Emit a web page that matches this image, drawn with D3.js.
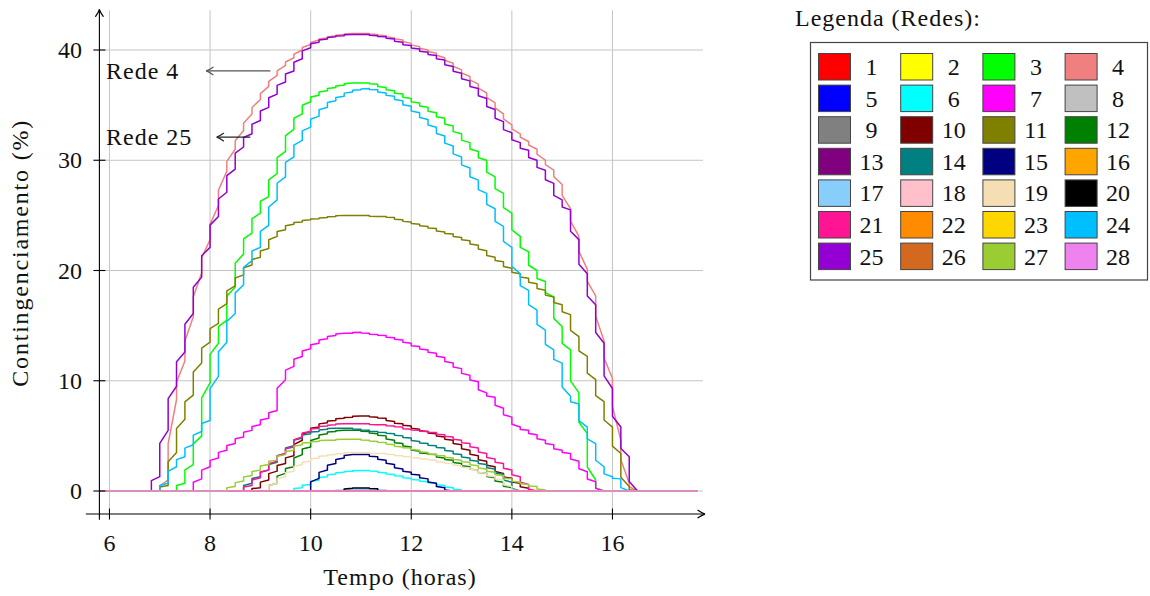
<!DOCTYPE html>
<html>
<head>
<meta charset="utf-8">
<script src="https://cdn.jsdelivr.net/npm/d3@7"></script>
<style>
  body { margin: 0; background: #fff; }
  svg { display: block; }
  text { font-family: "Liberation Serif", "Times New Roman", serif; fill: #111; }
</style>
</head>
<body>
<svg id="grafico" width="1150" height="596"></svg>
<script>
// Horários das amostras (intervalos de 10 min)
const horarios = [
  "06:40","06:50","07:00","07:10","07:20","07:30","07:40","07:50",
  "08:00","08:10","08:20","08:30","08:40","08:50",
  "09:00","09:10","09:20","09:30","09:40","09:50",
  "10:00","10:10","10:20","10:30","10:40","10:50",
  "11:00","11:10","11:20","11:30","11:40","11:50",
  "12:00","12:10","12:20","12:30","12:40","12:50",
  "13:00","13:10","13:20","13:30","13:40","13:50",
  "14:00","14:10","14:20","14:30","14:40","14:50",
  "15:00","15:10","15:20","15:30","15:40","15:50",
  "16:00","16:10","16:20","16:30","16:40"
];
// Fora da janela listada o contingenciamento é nulo
const inicioDados = "05:40";
const fimDados = "17:50";

// Contingenciamento (%) por rede; valores ausentes no fim = 0
const rede1 = [];
const rede2 = [];
const rede3 = [0,0,0,0,0,0.7,2.4,5.0,9.8,13.4,15.5,18.5,21.5,23.4,25.2,26.7,28.8,30.8,32.8,34.2,
  35.3,35.9,36.3,36.6,36.8,37.0,37.0,37.0,36.9,36.6,36.3,36.0,35.6,35.2,34.8,34.3,33.8,33.1,
  32.4,31.6,30.8,30.0,28.5,27.0,25.2,23.1,21.7,20.0,19.0,17.6,14.9,12.8,8.9,5.2,1.0,0];
const rede4 = [0,0,0,1.0,8.3,11.8,15.8,19.8,22.8,25.9,29.0,31.0,32.7,34.2,35.5,36.7,37.7,38.6,39.3,40.0,
  40.5,40.9,41.1,41.3,41.4,41.5,41.5,41.5,41.4,41.3,41.1,40.9,40.6,40.3,40.0,39.7,39.3,38.8,
  38.2,37.6,36.9,36.1,35.2,34.2,33.2,32.4,31.7,31.0,30.0,29.1,27.8,25.6,23.1,20.1,17.7,13.6,
  10.2,4.6,0.7,0,0];
const rede5 = [];
const rede6 = [0,0,0,0,0,0,0,0,0,0,0,0,0,0,0,0,0,0,0,0.3,0.6,1.0,1.3,1.55,1.7,1.8,1.85,1.85,1.8,
  1.65,1.5,1.35,1.15,1.0,0.85,0.7,0.5,0.3,0.1,0];
const rede7 = [0,0,0,0,0,0,0,1.1,2.2,3.0,3.7,4.3,4.9,5.5,6.0,6.6,7.3,10.1,11.3,12.2,
  12.9,13.4,13.8,14.1,14.3,14.3,14.4,14.3,14.2,14.1,13.9,13.7,13.4,13.1,12.8,12.5,12.1,11.6,
  11.1,10.5,9.9,8.9,8.5,7.5,6.7,5.8,5.5,5.1,4.6,4.2,3.7,3.4,2.7,1.75,0.84,0];
const rede8 = [];
const rede9 = [];
const rede10 = [0,0,0,0,0,0,0,0,0,0,0,0,0,0,0.3,1.0,1.8,2.5,3.2,4.6,5.4,5.8,6.2,6.4,6.6,6.7,
  6.8,6.8,6.7,6.6,6.3,6.1,5.9,5.6,5.4,5.2,4.9,4.6,4.2,3.7,3.2,2.7,2.2,1.6,1.15,0.7,0.25,0];
const rede11 = [0,0,0,0.5,3.5,6.5,8.7,11.6,13.5,15.2,17.0,18.6,19.6,20.5,21.2,22.0,23.1,23.7,24.2,24.4,
  24.6,24.7,24.8,24.9,25.0,25.0,25.0,25.0,24.9,24.9,24.8,24.6,24.4,24.2,24.0,23.8,23.5,23.3,
  23.0,22.7,22.3,21.8,21.2,20.8,20.2,19.7,19.3,18.8,18.2,17.6,16.9,16.0,14.0,12.2,10.1,8.1,
  5.8,3.4,0.4,0,0];
const rede12 = [0,0,0,0,0,0,0,0,0,0,0,0,0,0,0,0,0.7,1.6,2.2,3.3,4.0,4.8,5.2,5.4,5.5,5.5,5.5,5.4,
  5.2,5.0,4.6,4.3,4.0,3.6,3.4,3.3,3.0,2.8,2.5,2.2,1.9,1.6,1.2,0.8,0.3,0];
const rede13 = [];
const rede14 = [0,0,0,0,0,0,0,0,0,0,0,0,0,0.7,1.3,1.9,2.6,3.4,4.1,4.8,5.2,5.4,5.6,5.7,5.7,5.7,
  5.6,5.5,5.4,5.3,5.2,5.0,4.8,4.5,4.3,4.1,3.9,3.6,3.3,3.0,2.7,2.4,2.0,1.5,0.8,0];
const rede15 = [0,0,0,0,0,0,0,0,0,0,0,0,0,0,0,0,0,0,0,0,0,1.15,1.9,2.5,3.0,3.3,3.3,3.3,3.1,
  2.8,2.4,2.0,1.7,1.45,1.1,0.7,0.3,0];
const rede16 = [];
const rede17 = [0,0,0,0,0,0,0,0,0,0,0,0,0,0,0,0,0,0,0,0,0,0,0,0,0.1,0.15,0.15,0.15,0.15,0.1,0];
const rede18 = [];
const rede19 = [0,0,0,0,0,0,0,0,0,0,0,0,0,0,0,0,0.7,1.3,1.8,2.4,2.7,3.0,3.2,3.3,3.4,3.5,3.5,3.5,
  3.4,3.4,3.3,3.2,3.1,3.0,2.9,2.8,2.6,2.5,2.3,2.1,1.9,1.6,1.3,1.0,0.4,0];
const rede20 = [0,0,0,0,0,0,0,0,0,0,0,0,0,0,0,0,0,0,0,0,0,0,0,0,0,0.25,0.28,0.28,0.2,0];
const rede21 = [0,0,0,0,0,0,0,0,0,0,0,0,0,0.5,1.2,1.9,2.7,3.4,4.0,4.9,5.4,5.7,5.9,6.0,6.1,6.1,
  6.1,6.1,6.0,6.0,5.9,5.8,5.6,5.5,5.4,5.3,5.1,4.9,4.6,4.3,3.9,3.4,2.9,2.5,1.9,1.3,0.6,0];
const rede22 = [];
const rede23 = [];
const rede24 = [0,0,0,0.7,2.2,3.1,4.2,5.4,6.4,10.4,13.5,16.1,18.7,20.9,22.1,24.1,26.4,28.5,30.3,31.8,
  33.0,34.0,34.8,35.4,35.8,36.2,36.4,36.5,36.4,36.1,35.8,35.4,34.9,34.3,33.7,33.0,32.2,31.3,
  30.3,29.3,28.2,27.0,25.6,24.0,22.1,19.7,18.2,16.4,14.6,12.8,11.6,8.6,7.9,5.8,4.3,2.2,
  1.3,1.1,0];
const rede25 = [0,0,1.3,5.5,9.5,12.6,16.1,19.4,22.1,24.9,27.1,29.2,31.2,32.4,33.6,34.8,36.0,37.1,38.1,39.2,
  40.2,40.7,41.0,41.2,41.3,41.4,41.4,41.4,41.3,41.2,41.0,40.7,40.4,40.1,39.8,39.5,39.1,38.5,
  37.9,37.2,36.5,35.6,34.6,33.5,32.5,31.6,30.9,30.0,29.1,27.9,26.4,25.5,22.8,19.7,16.9,13.4,
  9.3,5.8,3.1,0,0];
const rede26 = [];
const rede27 = [0,0,0,0,0,0,0,0,0,0,0,0.4,0.9,1.4,1.9,2.4,2.8,3.3,3.7,4.2,4.4,4.5,4.6,4.6,4.7,4.7,
  4.7,4.6,4.5,4.4,4.2,4.0,3.9,3.7,3.5,3.3,3.2,3.0,2.8,2.6,2.3,2.0,1.7,1.4,1.1,0.8,0.6,0.4,0.1,0];
const rede28 = [];

const redes = ["1","2","3","4","5","6","7","8","9","10","11","12","13","14",
               "15","16","17","18","19","20","21","22","23","24","25","26","27","28"];
const series = [rede1,rede2,rede3,rede4,rede5,rede6,rede7,rede8,rede9,rede10,rede11,rede12,rede13,rede14,
                rede15,rede16,rede17,rede18,rede19,rede20,rede21,rede22,rede23,rede24,rede25,rede26,rede27,rede28];
const cores = ["#ff0000","#ffff00","#00ff00","#f08080","#0000ff","#00ffff","#ff00ff","#c0c0c0",
               "#808080","#800000","#808000","#008000","#800080","#008080","#000080","#ffa500",
               "#87cefa","#ffc0cb","#f5deb3","#000000","#ff1493","#ff8c00","#ffd700","#00bfff",
               "#9400d3","#d2691e","#9acd32","#ee82ee"];

const ticksX = [6, 8, 10, 12, 14, 16];
const ticksY = [0, 10, 20, 30, 40];
const anotacoes = [
  { texto: "Rede 4",  nivel: 38.1, deX: 9.2,  ateX: 7.92 },
  { texto: "Rede 25", nivel: 32.1, deX: 8.8,  ateX: 8.13 }
];

// ---------------------------------------------------------------
const svg = d3.select("#grafico");
const x = d3.scaleLinear().domain([5.8, 17.8]).range([99.4, 703]);
const y = d3.scaleLinear().domain([0, 40]).range([491, 50]);
const eixoY0 = -2.09;          // altura do eixo horizontal
const xMinEixo = 5.53, yMaxEixo = 43.6, yMinEixo = -2.6;
const xMaxDados = 17.7;

const hora = s => { const [h, m] = s.split(":").map(Number); return h + m / 60; };

// grade
const grade = svg.append("g").attr("stroke", "#c4c4c4").attr("stroke-width", 1);
ticksX.forEach(t => grade.append("line")
  .attr("x1", x(t)).attr("x2", x(t)).attr("y1", y(eixoY0)).attr("y2", y(yMaxEixo)));
ticksY.forEach(t => grade.append("line")
  .attr("x1", x(5.8)).attr("x2", x(17.8)).attr("y1", y(t)).attr("y2", y(t)));

// curva em degraus: salto vertical seguido de rampa até o próximo ponto
function curvaDegrau(fracao) {
  return function (ctx) {
    let x0, y0, n = 0;
    return {
      areaStart() {}, areaEnd() {},
      lineStart() { n = 0; },
      lineEnd() {},
      point(px, py) {
        if (n++ === 0) ctx.moveTo(px, py);
        else { ctx.lineTo(x0, y0 + fracao * (py - y0)); ctx.lineTo(px, py); }
        x0 = px; y0 = py;
      }
    };
  };
}

svg.append("clipPath").attr("id", "area").append("rect")
  .attr("x", x(5.8)).attr("y", 0).attr("width", x(xMaxDados) - x(5.8)).attr("height", 596);

const curvas = svg.append("g").attr("clip-path", "url(#area)").attr("fill", "none");
series.forEach((serie, i) => {
  const pontos = [{ t: hora(inicioDados), v: 0 }]
    .concat(horarios.map((h, k) => ({ t: hora(h), v: k < serie.length ? serie[k] : 0 })))
    .concat([{ t: hora(fimDados), v: 0 }]);
  const linha = d3.line()
    .x(d => x(d.t)).y(d => y(d.v))
    .curve(curvaDegrau(redes[i] === "4" ? 0.45 : 0.72));
  curvas.append("path")
    .attr("d", linha(pontos))
    .attr("stroke", cores[i])
    .attr("stroke-width", 1.5)
    .attr("stroke-linejoin", "round");
});

// eixos com setas
function seta(g, px, py, ang, cor, w) {
  g.append("path")
    .attr("d", "M-7,-3.8 Q-2.5,-0.6 0,0 Q-2.5,0.6 -7,3.8")
    .attr("transform", `translate(${px},${py}) rotate(${ang})`)
    .attr("fill", "none").attr("stroke", cor).attr("stroke-width", w)
    .attr("stroke-linecap", "round");
}
const eixos = svg.append("g").attr("stroke", "#000").attr("stroke-width", 1.1);
eixos.append("line").attr("x1", x(xMinEixo)).attr("x2", x(17.8) + 1.5)
  .attr("y1", y(eixoY0)).attr("y2", y(eixoY0));
eixos.append("line").attr("x1", x(5.8)).attr("x2", x(5.8))
  .attr("y1", y(yMinEixo)).attr("y2", y(yMaxEixo) - 0.5);
seta(eixos, x(17.8) + 2, y(eixoY0), 0, "#000", 1.2);
seta(eixos, x(5.8), y(yMaxEixo) - 1, -90, "#000", 1.2);

ticksX.forEach(t => eixos.append("line")
  .attr("x1", x(t)).attr("x2", x(t)).attr("y1", y(eixoY0) - 5.5).attr("y2", y(eixoY0) + 5.5));
ticksY.forEach(t => eixos.append("line")
  .attr("x1", x(5.8) - 6).attr("x2", x(5.8) + 6).attr("y1", y(t)).attr("y2", y(t)));

const rotulos = svg.append("g").attr("font-size", 24);
ticksX.forEach(t => rotulos.append("text")
  .attr("x", x(t)).attr("y", y(eixoY0) + 37).attr("text-anchor", "middle").text(t));
ticksY.forEach(t => rotulos.append("text")
  .attr("x", 82).attr("y", y(t) + 8).attr("text-anchor", "end").text(t));

rotulos.append("text").attr("x", 400).attr("y", 585).attr("text-anchor", "middle")
  .attr("letter-spacing", 1).text("Tempo (horas)");
rotulos.append("text")
  .attr("transform", `translate(28,${y(21.6)}) rotate(-90)`)
  .attr("text-anchor", "middle").attr("letter-spacing", 1.8).text("Contingenciamento (%)");

// anotações das redes de maior contingenciamento
anotacoes.forEach((a, i) => {
  rotulos.append("text").attr("x", 106).attr("y", y(a.nivel) + 8)
    .attr("letter-spacing", 1).text(a.texto);
  const cor = i === 0 ? "#555" : "#222";
  svg.append("line").attr("x1", x(a.deX)).attr("x2", x(a.ateX) + 1)
    .attr("y1", y(a.nivel)).attr("y2", y(a.nivel))
    .attr("stroke", cor).attr("stroke-width", 1.2);
  seta(svg, x(a.ateX), y(a.nivel), 180, cor, 1.2);
});

// legenda
const leg = svg.append("g").attr("font-size", 24);
leg.append("text").attr("x", 795).attr("y", 26).attr("letter-spacing", 1).text("Legenda (Redes):");
leg.append("rect").attr("x", 810.5).attr("y", 42.5).attr("width", 337).attr("height", 237.5)
  .attr("fill", "#fff").attr("stroke", "#444").attr("stroke-width", 1.2);
redes.forEach((r, i) => {
  const c = i % 4, l = Math.floor(i / 4);
  const sx = 818.5 + c * 82.2, sy = 53.5 + l * 31.6;
  leg.append("rect").attr("x", sx).attr("y", sy).attr("width", 32).attr("height", 26.5)
    .attr("fill", cores[i]).attr("stroke", "#444").attr("stroke-width", 1);
  leg.append("text").attr("x", sx + 53).attr("y", sy + 21.5).attr("text-anchor", "middle").text(r);
});
</script>
</body>
</html>
